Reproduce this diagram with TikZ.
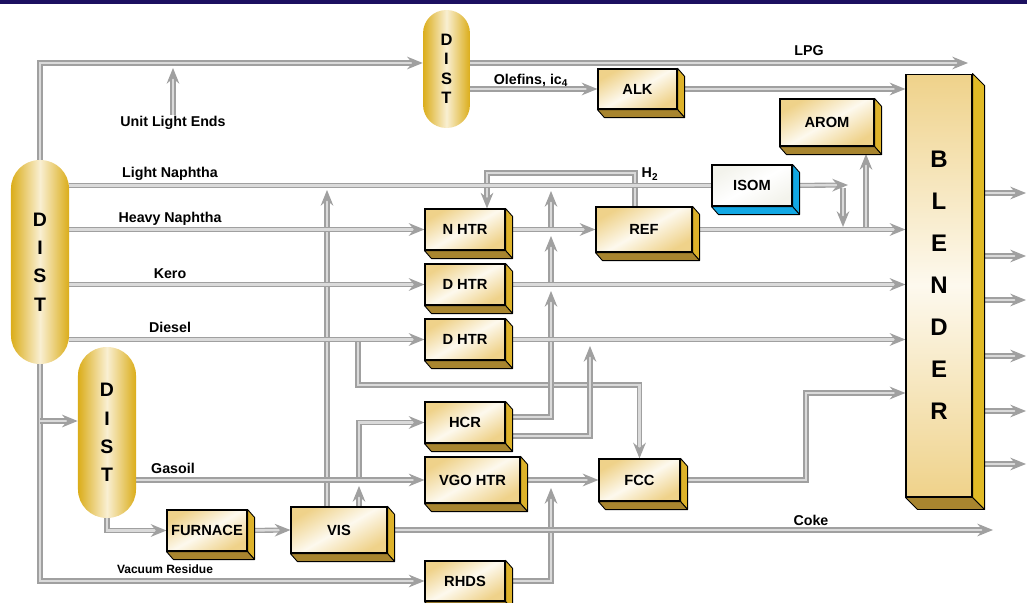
\documentclass[tikz,border=0pt]{standalone}
\usepackage{fontspec}
\setmainfont{Liberation Sans}
\usetikzlibrary{arrows.meta,backgrounds,positioning}

\definecolor{navy}{HTML}{1C1060}
\definecolor{pipegray}{HTML}{A0A0A0}
\definecolor{pipelight}{HTML}{DADADA}
\definecolor{gold}{HTML}{EFD28A}
\definecolor{cream}{HTML}{FDF9EE}
\definecolor{sidegold}{HTML}{DDB22A}
\definecolor{botgold}{HTML}{A8852F}
\definecolor{pillgold}{HTML}{DBAD1A}
\definecolor{pilllight}{HTML}{F9EFD2}
\definecolor{isomblue}{HTML}{12A8E4}
\definecolor{isomface}{HTML}{F3F3EC}

\tikzset{
  unit/.style={rectangle, draw=black, line width=0.8pt, inner sep=0pt,
    top color=gold, bottom color=gold, middle color=cream, shading angle=30,
    minimum width=53.3pt, minimum height=27.3pt,
    font=\fontsize{9.8}{11}\selectfont\bfseries},
  pill/.style={rectangle, inner sep=0pt, align=center,
    left color=pillgold, right color=pillgold, middle color=pilllight,
    font=\fontsize{13}{18.9}\selectfont\bfseries},
  lbl/.style={inner sep=1pt, font=\fontsize{9.5}{11}\selectfont\bfseries},
  pipe/.style={draw=pipegray, double=pipelight, line width=0.9pt, double distance=1.6pt},
  flow/.style={pipe, -{Stealth[length=10.5pt,width=8.5pt,inset=3.5pt]}},
  sideface/.style={fill=sidegold, draw=black, line width=0.6pt, line join=round},
  botface/.style={fill=botgold, draw=black, line width=0.6pt, line join=round}
}

\begin{document}
\begin{tikzpicture}[x=0.667pt, y=-0.667pt]
\useasboundingbox (0,0) rectangle (1027,603);
\fill[navy] (0,0) rectangle (1027,4);

% Columns
\node[pill, minimum width=38.7pt, minimum height=136pt, rounded corners=19pt] (dista) at (40,262) {D\\I\\S\\T};
\node[pill, minimum width=38.7pt, minimum height=114pt, rounded corners=19pt] (distb) at (107,432.5) {D\\I\\S\\T};
\node[pill, minimum width=31.3pt, minimum height=78.7pt, rounded corners=15.5pt,
  font=\fontsize{11}{12.9}\selectfont\bfseries] (distc) at (446.5,69) {D\\I\\S\\T};

% Units
\node[unit, minimum width=52.7pt, minimum height=26.7pt] (alk) at (637.5,89) {ALK};
\node[unit, minimum width=62.7pt, minimum height=31.3pt] (arom) at (827,122.5) {AROM};
\node[unit, top color=isomface, bottom color=isomface, middle color=white, shading angle=30] (isom) at (752,185.5) {ISOM};
\node[unit, minimum width=64pt, minimum height=30pt] (ref) at (644,229.5) {REF};
\node[unit] (nhtr) at (465,229.5) {N HTR};
\node[unit] (dhtra) at (465,284.5) {D HTR};
\node[unit] (dhtrb) at (465,339.5) {D HTR};
\node[unit] (hcr) at (465,422.5) {HCR};
\node[unit, minimum width=63.3pt, minimum height=30.7pt] (vgo) at (472.5,480) {VGO HTR};
\node[unit, minimum height=26.7pt] (rhds) at (465,581) {RHDS};
\node[unit] (furnace) at (207,530.5) {FURNACE};
\node[unit, minimum width=64pt, minimum height=30.7pt] (vis) at (339,530) {VIS};
\node[unit, minimum width=54pt, minimum height=28pt] (fcc) at (639.5,480) {FCC};
\node[unit, minimum width=44pt, minimum height=282pt, shading angle=0, align=center,
  font=\fontsize{16}{28}\selectfont\bfseries] (blender) at (939,285.5) {B\\L\\E\\N\\D\\E\\R};

% 3D faces
\foreach \n in {alk,arom,ref,nhtr,dhtra,dhtrb,hcr,vgo,rhds,furnace,vis,fcc}{
  \filldraw[sideface] (\n.north east) -- ++(7,8) -- ([shift={(7,8)}]\n.south east) -- (\n.south east) -- cycle;
  \filldraw[botface] (\n.south west) -- ++(7,8) -- ([shift={(7,8)}]\n.south east) -- (\n.south east) -- cycle;
}
\filldraw[sideface, fill=isomblue] (isom.north east) -- ++(7,8) -- ([shift={(7,8)}]isom.south east) -- (isom.south east) -- cycle;
\filldraw[botface, fill=isomblue] (isom.south west) -- ++(7,8) -- ([shift={(7,8)}]isom.south east) -- (isom.south east) -- cycle;
\filldraw[sideface, fill=sidegold!90!yellow] (blender.north east) -- ++(12,12) -- ([shift={(12,12)}]blender.south east) -- (blender.south east) -- cycle;
\filldraw[botface] (blender.south west) -- ++(12,12) -- ([shift={(12,12)}]blender.south east) -- (blender.south east) -- cycle;

% Labels
\node[lbl] (ule) at (173,123) {Unit Light Ends};
\node[lbl] at (809,51) {LPG};
\node[lbl] at (531,80) {Olefins, ic\textsubscript{4}};
\node[lbl] at (650,174) {H\textsubscript{2}};
\node[lbl] at (170,174) {Light Naphtha};
\node[lbl] at (170,219) {Heavy Naphtha};
\node[lbl] at (170,274) {Kero};
\node[lbl] at (170,327) {Diesel};
\node[lbl] at (173,468) {Gasoil};
\node[lbl, font=\fontsize{8}{9}\selectfont\bfseries] at (165,569) {Vacuum Residue};
\node[lbl] at (811,520) {Coke};

% Pipe ends and bends
\coordinate (lpgend) at (968,63);
\coordinate (cokeend) at (993,530);
\coordinate (ulein) at (173,68);
\coordinate (visln) at (327,190);
\coordinate (dsplit) at (358,340);
\coordinate (dbend) at (358,385);
\coordinate (visgo) at (359,486);
\coordinate (gohcr) at (359,480);
\coordinate (hcrup) at (551,417);
\coordinate (hcrlo) at (590,436);
\coordinate (rhdsup) at (551,488);
\coordinate (fcbend) at (806,393);
\coordinate (isomend) at (848,185);
\coordinate (isomdn) at (843,188);
\coordinate (aromin) at (866,154);
\coordinate (h2a) at (635,173);
\coordinate (h2b) at (487,173);
\coordinate (vsplit) at (40,421);

\begin{scope}[on background layer]
% Verticals
\draw[flow] (ule.north) -- (ulein);
\draw[flow] (vis.north -| visln) -- (visln);
\draw[flow] (vis.north -| visgo) -- (visgo);
\draw[flow] (gohcr) |- (hcr.west);
\draw[flow] (dsplit) -- (dbend) -| (fcc.north);
\draw[flow] (hcr.east |- hcrup) -| (551,291);
\draw[flow] (551,285) -- (551,236);
\draw[flow] (551,230) -- (551,191);
\draw[flow] (hcr.east |- hcrlo) -| (590,346);
\draw[flow] (rhds.east) -| (rhdsup);
\draw[flow] (isomdn) -- (843,227);
\draw[flow] (866,230) -- (aromin);
\draw[flow] (ref.north -| h2a) -- (h2a) -- (h2b) -- (nhtr.north -| h2b);

% Crude column
\draw[flow] (dista.north) |- (distc.west |- lpgend);
\draw[flow] (dista.south) |- (rhds.west);
\draw[flow] (vsplit) -- (distb.west |- vsplit);
\draw[pipe] (dista.east |- isom) -- (isom.west);
\draw[flow] (dista.east |- nhtr) -- (nhtr.west);
\draw[flow] (dista.east |- dhtra) -- (dhtra.west);
\draw[flow] (dista.east |- dhtrb) -- (dhtrb.west);

% Vacuum column
\draw[flow] (distb.east |- vgo) -- (vgo.west);
\draw[flow] (distb.south) |- (furnace.west);
\draw[flow] (furnace.east) -- (vis.west);
\draw[flow] (vis.east) -- (cokeend);

% Light ends
\draw[flow] (distc.east |- lpgend) -- (lpgend);
\draw[flow] (distc.east |- alk) -- (alk.west);
\draw[flow] (alk.east) -- (blender.west |- alk);
\draw[flow] (isom.east) -- (isomend);

% To blender
\draw[flow] (nhtr.east) -- (ref.west |- nhtr);
\draw[flow] (ref.east) -- (blender.west |- ref);
\draw[flow] (dhtra.east) -- (blender.west |- dhtra);
\draw[flow] (dhtrb.east) -- (blender.west |- dhtrb);
\draw[flow] (vgo.east) -- (fcc.west);
\draw[flow] (fcc.east) -| (fcbend) -- (blender.west |- fcbend);
\foreach \y in {193,256,300,356,411,464}
  \draw[flow] (blender.east |- 0,\y) -- (1026,\y);
\end{scope}
\end{tikzpicture}
\end{document}
